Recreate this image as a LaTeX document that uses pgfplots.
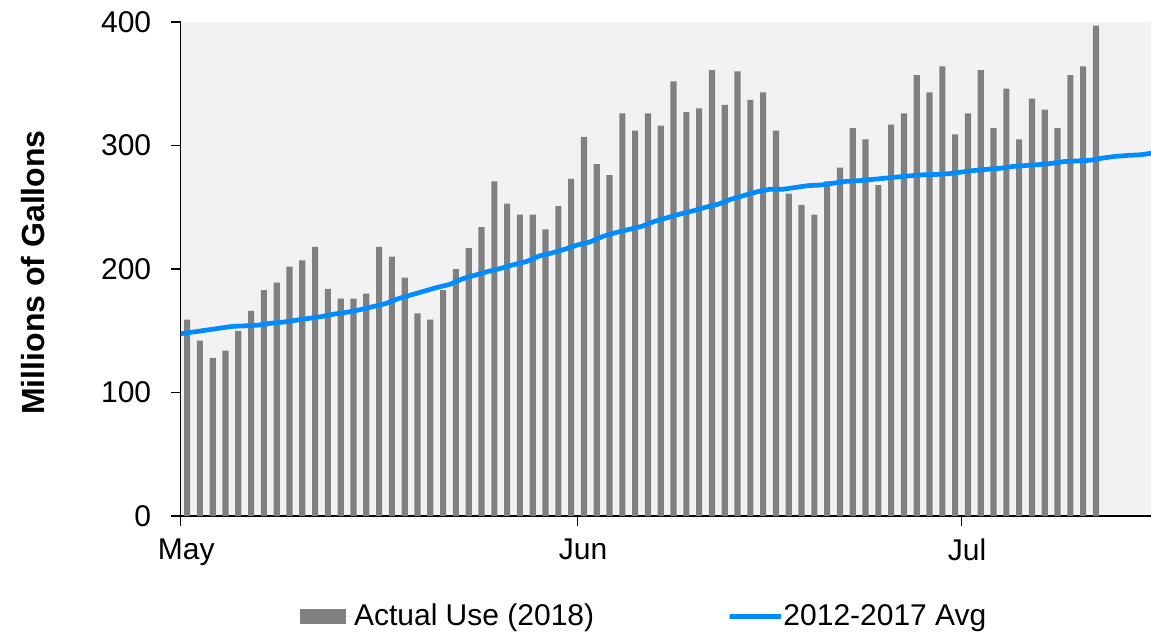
\documentclass[border=0pt]{standalone}
\usepackage{fontspec}
\setmainfont{Liberation Sans}
\usepackage{pgfplots}
\pgfplotsset{compat=1.18}
\usepackage{pgfplotstable}

\definecolor{bgc}{RGB}{242,242,242}
\definecolor{barc}{RGB}{128,128,128}
\definecolor{avgc}{RGB}{0,140,255}

% daily use 2018, x = days after May 1 (+0.5, bars sit mid-day)
\pgfplotstableread{
d v
0.5 159
1.5 142
2.5 128
3.5 134
4.5 150
5.5 166
6.5 183
7.5 189
8.5 202
9.5 207
10.5 218
11.5 184
12.5 176
13.5 176
14.5 180
15.5 218
16.5 210
17.5 193
18.5 164
19.5 159
20.5 183
21.5 200
22.5 217
23.5 234
24.5 271
25.5 253
26.5 244
27.5 244
28.5 232
29.5 251
30.5 273
31.5 307
32.5 285
33.5 276
34.5 326
35.5 312
36.5 326
37.5 316
38.5 352
39.5 327
40.5 330
41.5 361
42.5 333
43.5 360
44.5 337
45.5 343
46.5 312
47.5 261
48.5 252
49.5 244
50.5 271
51.5 282
52.5 314
53.5 305
54.5 268
55.5 317
56.5 326
57.5 357
58.5 343
59.5 364
60.5 309
61.5 326
62.5 361
63.5 314
64.5 346
65.5 305
66.5 338
67.5 329
68.5 314
69.5 357
70.5 364
71.5 397
}\actual

% 2012-2017 average
\pgfplotstableread{
d v
0 147.6
1 149
2 150.5
3 152
4 153.5
5 154
6 154.5
7 156
8 157
9 158.5
10 160
11 161.5
12 163.5
13 165
14 167
15 169.5
16 172
17 176
18 179
19 182
20 185
21 187.5
22 192
23 195
24 198
25 200.5
26 203.5
27 206
28 210.5
29 213
30 216
31 219.5
32 222
33 226.5
34 229.5
35 232
36 234.5
37 238.5
38 241.5
39 244.5
40 247
41 250
42 252.5
43 256.5
44 259.5
45 262.5
46 264.5
47 264.5
48 266
49 267.5
50 268
51 269.5
52 271
53 271.5
54 272.5
55 273.5
56 274.5
57 275.5
58 276.3
59 276.5
60 277.2
61 278.5
62 279.8
63 280.7
64 281.5
65 283
66 283.8
67 284.5
68 285.5
69 287
70 287.5
71 288
72 289.8
73 291.2
74 292
75 292.5
76 294
}\avg

\begin{document}
\begin{tikzpicture}
\begin{axis}[
  at={(0,0)}, anchor=south west,
  scale only axis, width=485.15pt, height=247pt,
  xmin=0, xmax=75.8, ymin=0, ymax=400,
  axis x line*=bottom, axis y line*=left,
  axis line style={black, line width=0.8pt},
  axis background/.style={fill=bgc},
  xtick={0,31,61}, xticklabels={May,Jun,Jul},
  ytick={0,100,200,300,400},
  tick align=outside, major tick length=4.75pt,
  tick style={black, line width=0.8pt},
  ticklabel style={font=\fontsize{15}{18}\selectfont},
  /pgf/number format/assume math mode=true,
  xticklabel style={xshift=2.8pt, yshift=-3pt},
  yticklabel style={xshift=-6.5pt},
  ylabel={\bfseries Millions of Gallons},
  ylabel style={font=\fontsize{16}{19}\selectfont, at={(axis description cs:-0.1525,0.493)}, anchor=center},
  legend columns=2,
  legend cell align=left,
  legend style={draw=none, fill=none, inner sep=0pt, outer sep=0pt,
    at={(axis description cs:0.123,-0.2034)}, anchor=west,
    font=\fontsize{15}{18}\selectfont,
    nodes={inner sep=0pt},
    /tikz/every even column/.append style={column sep=66.5pt}},
]
\addplot[ybar, bar width=0.48, fill=barc, draw=none,
  legend image code/.code={\fill[barc] (0pt,-3.9pt) rectangle (22.85pt,3.9pt);
    \path (0pt,0pt) rectangle (27pt,0pt);}]
  table[x=d, y=v] {\actual};
\addlegendentry{Actual Use (2018)}
\addplot[avgc, line width=2.35pt, mark=none,
  legend image code/.code={\draw[avgc, line width=2.35pt, line cap=round] (1.2pt,0pt) -- (22.6pt,0pt);
    \path (0pt,0pt) rectangle (25.8pt,0pt);}]
  table[x=d, y=v] {\avg};
\addlegendentry{2012-2017 Avg}
\end{axis}
\pgfresetboundingbox
\useasboundingbox (-90.35pt,-58.5pt) rectangle (485.15pt,258pt);
\end{tikzpicture}
\end{document}
